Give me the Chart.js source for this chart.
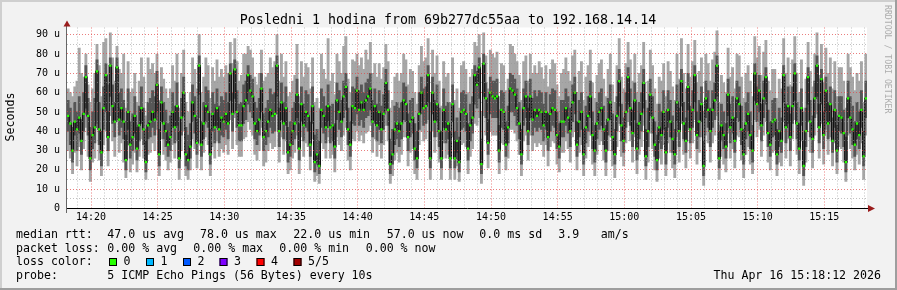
<!DOCTYPE html>
<html>
<head>
<meta charset="utf-8">
<script src="https://cdn.jsdelivr.net/npm/chart.js@4.4.0/dist/chart.umd.min.js"></script>
<style>
  html, body { margin: 0; padding: 0; background: #f2f2f2; }
  canvas { display: block; }
</style>
</head>
<body>
<canvas id="smokeChart" width="897" height="290"></canvas>
<script>
// cas v sekundach od 14:00:00, krok 10 s (14:18:12 - 15:18:12)
const startSec = 1092;
const stepSec = 10;

// ping 3 z 5 = median (us)
const median = [
  48,44,30,45,41,47,35,49,68,48, 26,38,42,71,41,29,52,69,37,74,
  53,45,73,46,52,45,25,50,33,37, 48,31,43,52,41,24,43,45,50,46,
  64,28,55,44,40,33,37,50,42,53, 26,47,60,28,25,32,55,48,34,74,
  33,44,53,50,28,49,42,52,41,47, 45,49,44,70,49,72,50,43,43,53,
  56,69,61,58,44,40,46,62,37,40, 45,51,48,49,74,40,55,44,52,29,
  33,40,44,59,31,54,43,50,48,33, 53,24,28,22,51,48,42,53,42,43,
  32,56,50,45,58,63,41,33,53,52, 61,51,55,51,56,58,62,45,53,43,
  50,41,49,65,51,23,28,41,44,40, 44,56,54,37,45,47,31,26,49,60,
  52,53,69,26,60,45,54,40,26,51, 41,44,26,54,26,35,24,50,51,49,
  31,43,47,69,64,73,23,75,57,34, 60,58,57,58,30,51,50,33,42,62,
  61,59,52,44,28,52,58,40,58,46, 51,48,51,50,43,50,37,49,52,51,
  38,32,45,45,52,47,40,55,60,33, 45,50,28,42,48,58,38,30,44,50,
  52,41,30,46,55,37,28,48,66,43, 35,50,68,52,39,56,31,44,49,65,
  27,40,59,47,33,25,42,38,50,29, 51,45,36,28,55,40,66,44,35,63,
  41,51,69,38,45,54,22,57,51,40, 51,56,74,26,43,38,32,59,42,47,
  35,57,54,41,28,44,49,38,30,70, 54,61,43,57,68,39,33,45,46,28,
  40,35,69,42,53,37,53,70,44,31, 52,22,40,68,45,36,57,74,42,67,
  38,61,44,54,35,51,30,48,47,39, 24,57,47,41,33,44,38,51,27,57
];

// ping 2 z 5
const pingLow = [
  40,33,24,38,30,39,28,40,52,38, 20,31,34,55,33,22,41,50,30,58,
  44,37,55,38,42,36,20,41,26,30, 39,25,35,44,33,19,36,37,42,38,
  50,22,45,36,32,27,30,42,34,43, 21,38,48,22,20,26,45,39,28,59,
  27,36,45,42,23,40,34,43,34,38, 37,41,36,56,40,57,42,35,35,44,
  46,54,50,47,36,33,38,50,30,33, 37,42,39,40,58,32,46,36,43,24,
  27,33,36,47,25,45,35,42,40,27, 44,19,23,18,42,39,34,45,34,35,
  26,46,41,37,47,51,33,27,44,43, 49,43,46,42,47,48,51,37,44,35,
  41,34,41,52,43,18,23,33,36,32, 36,46,45,30,37,39,25,21,41,49,
  43,44,55,21,49,37,45,32,21,42, 34,36,21,45,21,29,19,41,42,40,
  25,35,39,54,52,57,18,58,47,28, 49,47,47,47,24,42,41,27,34,50,
  50,48,43,36,23,43,47,33,47,38, 42,40,42,41,35,41,30,40,43,42,
  31,26,37,37,43,39,32,45,49,27, 37,41,23,34,40,47,31,24,36,41,
  43,33,24,38,46,30,23,40,53,35, 29,42,54,43,32,46,25,36,40,52,
  22,32,48,39,27,20,34,31,41,23, 42,37,29,23,45,32,53,36,29,51,
  34,42,55,31,37,45,17,47,42,32, 42,46,58,21,35,31,26,48,34,39,
  29,47,45,33,23,36,40,31,24,56, 45,50,35,47,54,32,27,37,38,23,
  32,29,55,34,44,30,44,56,36,25, 43,17,32,54,37,29,47,58,34,54,
  31,50,36,45,29,42,24,40,39,32, 19,47,39,33,27,36,31,42,22,47
];

// ping 4 z 5
const pingHigh = [
  56,52,42,55,50,58,46,60,74,57, 42,50,57,77,55,40,63,75,50,78,
  64,55,78,60,62,56,38,62,45,49, 58,42,53,63,52,35,55,57,61,58,
  71,41,63,55,51,44,48,60,53,65, 40,57,68,42,38,44,64,58,46,79,
  45,55,63,61,41,60,54,62,53,58, 56,60,55,75,60,77,61,54,55,64,
  66,74,69,67,55,52,57,70,49,52, 56,62,59,60,79,52,65,55,63,42,
  45,52,55,67,44,63,54,61,59,45, 63,38,41,35,62,58,53,64,53,54,
  44,65,61,56,66,70,52,45,63,62, 68,61,64,60,65,67,70,56,62,54,
  61,53,59,72,61,36,41,53,55,52, 55,65,63,49,56,57,44,40,60,68,
  62,63,74,40,68,56,64,52,40,62, 53,55,40,64,40,47,37,60,61,59,
  44,54,58,74,71,78,36,80,65,46, 68,66,66,67,43,61,60,45,53,70,
  69,67,62,55,41,62,66,52,67,57, 61,58,61,60,54,60,49,59,62,61,
  50,44,56,56,62,58,52,64,68,45, 56,60,41,53,58,66,50,43,55,60,
  62,53,43,57,64,49,41,58,72,54, 47,60,73,62,51,65,44,55,60,72,
  41,52,67,58,45,38,54,50,61,42, 61,56,48,41,64,52,72,55,47,70,
  53,61,74,50,56,63,35,66,61,52, 61,65,79,40,54,50,44,67,54,58,
  47,66,63,53,41,55,60,50,43,75, 63,69,54,66,73,51,45,56,57,41,
  52,47,74,54,63,49,63,75,55,44, 62,35,52,73,56,48,66,79,54,72,
  50,68,55,63,47,61,43,58,58,51, 37,66,58,53,45,55,50,61,40,66
];

// ping 1 z 5 (nejrychlejsi)
const pingMin = [
  30,26,18,29,22,32,20,31,42,27, 14,24,26,44,25,17,33,40,22,48,
  35,27,45,29,34,24,16,33,19,23, 29,19,27,36,26,15,28,29,34,30,
  41,17,36,28,25,20,24,33,26,35, 15,30,40,17,15,20,36,31,21,47,
  20,29,37,33,17,32,26,35,27,31, 29,33,28,46,31,47,33,27,27,36,
  37,45,41,38,28,25,30,42,22,24, 30,34,31,32,49,24,37,28,35,18,
  20,26,29,38,18,37,27,34,32,20, 36,14,17,13,34,31,26,37,26,28,
  19,37,33,30,38,42,25,20,36,35, 40,35,38,34,39,40,43,29,36,27,
  33,26,33,43,35,13,17,25,29,24, 28,37,37,22,29,31,18,15,33,40,
  35,36,46,15,40,29,37,24,15,34, 26,28,15,37,15,22,14,33,34,32,
  18,27,31,44,43,47,13,48,38,21, 40,38,38,38,18,34,33,20,26,41,
  41,39,35,28,17,35,38,25,38,30, 34,32,34,33,27,33,22,32,35,34,
  23,19,29,29,35,31,24,37,40,20, 29,33,17,26,32,38,23,17,28,33,
  35,25,17,30,37,22,16,32,44,27, 22,34,45,35,24,37,18,28,32,43,
  15,24,39,31,20,14,26,23,33,17, 34,29,21,16,37,24,44,28,21,42,
  26,34,46,23,29,37,12,38,34,24, 34,38,48,15,27,23,19,39,26,31,
  21,38,37,25,16,28,32,23,18,46, 37,41,27,38,45,24,20,29,30,17,
  24,22,45,26,36,22,36,46,28,18, 35,12,24,45,29,21,38,49,26,44,
  23,41,28,37,22,34,18,32,31,24, 14,38,31,26,20,28,23,34,15,38
];

// ping 5 z 5 (nejpomalejsi)
const pingMax = [
  62,60,58,63,66,83,70,68,80,64, 55,62,70,85,74,58,86,88,64,91,
  78,66,84,72,70,80,52,76,60,62, 70,55,66,78,68,48,78,72,75,70,
  80,56,73,67,62,57,62,74,66,80, 52,70,82,55,50,60,78,72,62,90,
  60,68,78,74,57,73,66,77,68,72, 68,74,70,86,75,88,76,66,69,80,
  80,84,82,78,68,64,70,82,66,68, 70,78,73,76,90,66,80,68,76,58,
  60,66,69,85,58,76,68,75,73,62, 78,55,57,52,80,72,67,88,66,70,
  59,80,76,70,84,89,67,60,77,76, 80,74,78,72,82,77,86,70,75,68,
  75,67,73,85,76,52,56,68,70,66, 70,80,77,64,72,71,60,54,74,84,
  76,78,88,55,82,70,79,66,53,76, 68,70,55,78,56,62,52,74,76,72,
  60,68,72,86,84,90,50,91,79,62, 82,80,78,81,58,75,74,61,67,85,
  84,80,76,69,56,76,79,66,80,70, 74,70,76,73,67,74,63,72,77,75,
  64,58,70,72,78,71,66,79,82,60, 71,76,56,68,74,82,65,57,69,75,
  77,67,58,72,80,64,55,74,88,68, 62,75,86,77,66,80,60,70,74,86,
  56,66,82,74,62,54,68,66,75,58, 76,71,63,56,80,67,88,70,62,85,
  68,76,87,65,71,78,50,80,75,66, 77,81,92,55,69,65,60,83,68,73,
  62,80,79,68,57,70,74,66,58,89, 78,84,69,81,87,66,61,72,72,57,
  67,62,88,70,78,64,77,89,70,60, 77,50,67,86,71,63,80,91,69,85,
  65,83,70,78,62,76,58,73,73,66, 52,80,73,68,61,70,66,76,55,80
];

const timeLabels = ['14:20','14:25','14:30','14:35','14:40','14:45','14:50','14:55','15:00','15:05','15:10','15:15'];
const yLabels = ['0','10 u','20 u','30 u','40 u','50 u','60 u','70 u','80 u','90 u'];

const legendRtt = [['median rtt:', 16], ['47.0 us avg', 107.3], ['78.0 us max', 200], ['22.0 us min', 293.3], ['57.0 us now', 386.7], ['0.0 ms sd', 479.3], ['3.9', 558.3], ['am/s', 600.7]];
const legendLoss = [['packet loss:', 16], ['0.00 % avg', 107.3], ['0.00 % max', 193.3], ['0.00 % min', 279.3], ['0.00 % now', 365.7]];
const lossColors = [['0', '#26ff00', 109], ['1', '#00b8ff', 146], ['2', '#0059ff', 183], ['3', '#7e00ff', 219.5], ['4', '#ff0000', 256.5], ['5/5', '#a10000', 293.5]];

const MONO = '"DejaVu Sans Mono", monospace';
const xOf = i => startSec + i * stepSec + stepSec / 2;

// pozadi, ram, osy a popisky jako u rrdtool
const rrdLook = {
  id: 'rrdLook',
  beforeDraw(chart) {
    const c = chart.ctx, a = chart.chartArea;
    c.save();
    c.fillStyle = '#f2f2f2';
    c.fillRect(0, 0, 897, 290);
    c.fillStyle = '#cfcfcf';
    c.fillRect(0, 0, 897, 2);
    c.fillRect(0, 0, 2, 290);
    c.fillStyle = '#9e9e9e';
    c.fillRect(0, 288, 897, 2);
    c.fillRect(895, 0, 2, 290);
    c.fillStyle = '#ffffff';
    c.fillRect(a.left, a.top, a.right - a.left, a.bottom - a.top);
    c.restore();
  },
  afterDraw(chart) {
    const c = chart.ctx;
    c.save();
    // osy
    c.lineWidth = 1;
    c.strokeStyle = '#000';
    c.beginPath(); c.moveTo(66, 208.5); c.lineTo(869, 208.5); c.stroke();
    c.strokeStyle = '#666';
    c.beginPath(); c.moveTo(66.5, 213); c.lineTo(66.5, 25); c.stroke();
    c.fillStyle = '#9a1c1c';
    c.beginPath(); c.moveTo(67, 20.5); c.lineTo(63.5, 26.5); c.lineTo(70.5, 26.5); c.closePath(); c.fill();
    c.beginPath(); c.moveTo(875, 208.5); c.lineTo(868, 205); c.lineTo(868, 212); c.closePath(); c.fill();

    // nadpis
    c.fillStyle = '#000';
    c.font = '13.3px ' + MONO;
    c.textAlign = 'center';
    c.textBaseline = 'alphabetic';
    c.fillText('Posledni 1 hodina from 69b277dc55aa to 192.168.14.14', 448, 23.5);

    // osa y
    c.save();
    c.translate(10.5, 117);
    c.rotate(-Math.PI / 2);
    c.font = '11.6px ' + MONO;
    c.textBaseline = 'middle';
    c.fillText('Seconds', 0, 0);
    c.restore();

    c.save();
    c.translate(887.5, 5);
    c.rotate(Math.PI / 2);
    c.font = '8.2px ' + MONO;
    c.fillStyle = '#adadad';
    c.textAlign = 'left';
    c.textBaseline = 'middle';
    c.fillText('RRDTOOL / TOBI OETIKER', 0, 0);
    c.restore();

    // legenda
    c.font = '11.6px ' + MONO;
    c.textAlign = 'left';
    c.fillStyle = '#000';
    legendRtt.forEach(([t, x]) => c.fillText(t, x, 237.8));
    legendLoss.forEach(([t, x]) => c.fillText(t, x, 251.6));
    c.fillText('loss color:', 16, 265.4);
    lossColors.forEach(([t, col, x]) => {
      c.fillStyle = col;
      c.fillRect(x, 258, 8, 8);
      c.strokeStyle = '#000';
      c.strokeRect(x + 0.5, 258.5, 7, 7);
      c.fillStyle = '#000';
      c.fillText(t, x + 14.5, 265.4);
    });
    c.fillText('probe:', 16, 279.3);
    c.fillText('5 ICMP Echo Pings (56 Bytes) every 10s', 107.3, 279.3);
    c.textAlign = 'right';
    c.fillText('Thu Apr 16 15:18:12 2026', 881, 279.3);
    c.restore();
  }
};

const minorGrid = 'rgba(150,150,150,0.6)';
const majorGrid = 'rgba(225,70,70,0.7)';

new Chart(document.getElementById('smokeChart'), {
  type: 'bar',
  data: {
    datasets: [
      {
        type: 'line',
        order: 0,
        data: median.map((v, i) => ({ x: xOf(i), y: v })),
        showLine: false,
        pointStyle: 'rect',
        pointRadius: 1.6,
        pointBackgroundColor: '#26ff00',
        pointBorderWidth: 0
      },
      {
        type: 'line',
        order: 1,
        data: median.map((v, i) => ({ x: xOf(i), y: v })),
        stepped: 'middle',
        borderColor: '#111111',
        borderWidth: 1.3,
        pointRadius: 0
      },
      {
        order: 2,
        data: pingLow.map((v, i) => ({ x: xOf(i), y: [v, pingHigh[i]] })),
        backgroundColor: '#565656',
        borderWidth: 0,
        grouped: false,
        barPercentage: 1,
        categoryPercentage: 1
      },
      {
        order: 3,
        data: pingMin.map((v, i) => ({ x: xOf(i), y: [v, pingMax[i]] })),
        backgroundColor: '#a6a6a6',
        borderWidth: 0,
        grouped: false,
        barPercentage: 1,
        categoryPercentage: 1
      }
    ]
  },
  options: {
    responsive: false,
    animation: false,
    devicePixelRatio: 1,
    layout: { padding: { left: 0, right: 30, top: 27.5, bottom: 0 } },
    plugins: { legend: { display: false }, tooltip: { enabled: false } },
    scales: {
      x: {
        type: 'linear',
        min: startSec,
        max: startSec + 360 * stepSec,
        offset: false,
        afterFit: s => { s.height = 81.5; },
        // mrizka po minutach (14:19 ... 15:18)
        afterBuildTicks: s => {
          const t = [];
          for (let v = 1140; v <= 4680; v += 60) t.push({ value: v });
          s.ticks = t;
        },
        grid: {
          offset: false,
          z: 1,
          drawTicks: false,
          color: ctx => (ctx.tick && ctx.tick.value % 300 === 0) ? majorGrid : minorGrid
        },
        border: { display: false, dash: [1, 2] },
        ticks: {
          autoSkip: false,
          maxRotation: 0,
          padding: 3,
          color: '#000',
          font: { family: MONO, size: 10 },
          callback: v => v % 300 === 0 ? (timeLabels[(v - 1200) / 300] || '') : ''
        }
      },
      y: {
        min: 0,
        max: 93.7,
        afterFit: s => { s.width = 67; },
        grid: {
          z: 1,
          drawTicks: false,
          color: ctx => (ctx.tick && ctx.tick.value % 10 === 0) ? majorGrid : minorGrid
        },
        border: { display: false, dash: [1, 2] },
        ticks: {
          stepSize: 5,
          includeBounds: false,
          autoSkip: false,
          padding: 7,
          color: '#000',
          font: { family: MONO, size: 10 },
          callback: v => v % 10 === 0 ? yLabels[v / 10] : ''
        }
      }
    }
  },
  plugins: [rrdLook]
});
</script>
</body>
</html>
